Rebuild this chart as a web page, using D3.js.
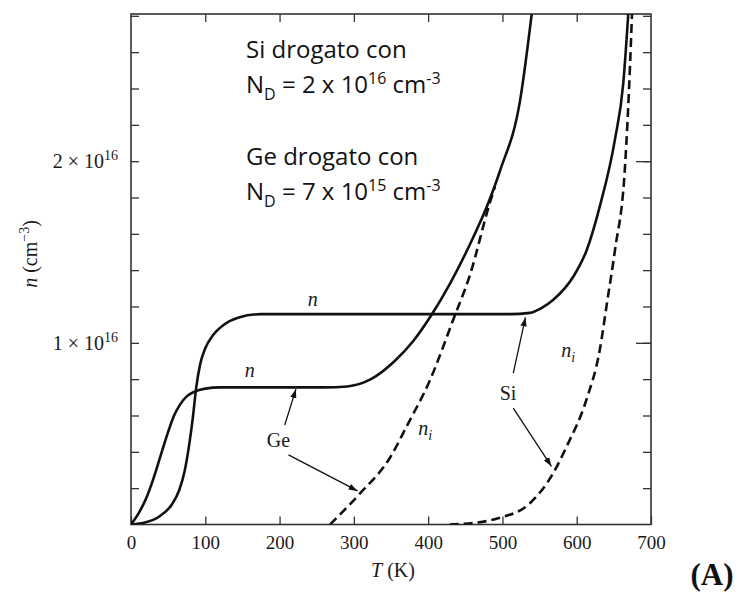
<!DOCTYPE html>
<html>
<head>
<meta charset="utf-8">
<script src="https://cdn.jsdelivr.net/npm/d3@7/dist/d3.min.js"></script>
<style>
  body { margin: 0; background: #fff; }
  svg { display: block; }
  .serif { font-family: 'Liberation Serif', 'DejaVu Serif', serif; fill: #1a1a1a; }
  .note { font-family: 'Open Sans', 'Noto Sans', sans-serif; fill: #111; }
  .axis path { display: none; }
  .axis line { stroke: #333; stroke-width: 1.3; }
</style>
</head>
<body>
<svg id="chart" width="740" height="595"></svg>
<script>

// Temperature axis (K) and concentration axis (units of 1e16 cm^-3)
const xTicks = [0, 100, 200, 300, 400, 500, 600, 700];
const yMinorTicks = [0.2, 0.4, 0.6, 0.8, 1.0, 1.2, 1.4, 1.6, 1.8, 2.0, 2.2, 2.4, 2.6, 2.8];
const yMajorTicks = [1, 2];

// Ge, electron concentration n
const geT = [0, 10, 20, 30, 40, 50, 58, 66, 75, 85, 100, 120, 200, 260, 291, 323, 355, 380, 404, 430, 456, 480, 497, 524, 539.4];
const geN = [0, 0.06, 0.14, 0.25, 0.38, 0.51, 0.60, 0.66, 0.705, 0.73, 0.748, 0.755, 0.755, 0.755, 0.76, 0.80, 0.90, 1.01, 1.15, 1.33, 1.54, 1.76, 1.95, 2.34, 2.81];

// Ge, intrinsic concentration n_i
const geNiT = [268, 308, 349, 371, 402, 434, 456, 483, 490];
const geNi  = [0, 0.17, 0.37, 0.54, 0.79, 1.13, 1.37, 1.77, 1.86];

// Si, electron concentration n
const siT = [0, 20, 40, 55, 65, 72, 78, 83, 88, 93, 100, 110, 125, 145, 175, 250, 400, 510, 537, 552, 568.5, 595.5, 613.4, 631, 651.5, 662.7, 669.4];
const siN = [0, 0.012, 0.05, 0.11, 0.19, 0.29, 0.43, 0.58, 0.76, 0.88, 0.97, 1.04, 1.10, 1.14, 1.158, 1.158, 1.158, 1.158, 1.165, 1.19, 1.237, 1.365, 1.51, 1.75, 2.12, 2.43, 2.81];

// Si, intrinsic concentration n_i
const siNiT = [429, 465, 494, 537, 568, 586.5, 613, 631, 641.4, 651.5, 665, 671.7, 674.4];
const siNi  = [0, 0.01, 0.034, 0.117, 0.28, 0.43, 0.686, 0.96, 1.237, 1.51, 1.97, 2.52, 2.81];

// Arrows [fromT, fromN, toT, toN]
const arrows = [
  [207, 0.548, 222, 0.745],
  [212, 0.383, 305, 0.185],
  [514.6, 0.833, 531, 1.14],
  [514.6, 0.64, 566, 0.32],
];

// Curve labels [text, subscript, T, n]
const curveLabels = [
  ['n', '', 244.6, 1.228],
  ['n', '', 160, 0.842],
  ['n', 'i', 396, 0.52],
  ['n', 'i', 588.6, 0.952],
];
const materialLabels = [
  ['Ge', 198.5, 0.466],
  ['Si', 507.5, 0.725],
];

const svg = d3.select('#chart');

// Scales: frame is 131..651 horizontally, 14..524.5 vertically
const x = d3.scaleLinear().domain([0, 700]).range([131, 651]);
const y = d3.scaleLinear().domain([0, 2.81]).range([524.5, 14]);

svg.append('defs')
  .append('clipPath')
  .attr('id', 'plot-clip')
  .append('rect')
  .attr('x', 131).attr('y', 14)
  .attr('width', 520).attr('height', 510.5);

svg.select('defs')
  .append('marker')
  .attr('id', 'head')
  .attr('viewBox', '0 0 10 10')
  .attr('refX', 10).attr('refY', 5)
  .attr('markerWidth', 9).attr('markerHeight', 9)
  .attr('markerUnits', 'userSpaceOnUse')
  .attr('orient', 'auto')
  .append('path')
  .attr('d', 'M0,1.5 L10,5 L0,8.5 Z')
  .attr('fill', '#111');

// Axes, ticks pointing inward on all four sides
svg.append('g')
  .attr('class', 'axis serif')
  .attr('transform', 'translate(0,524.5)')
  .call(d3.axisBottom(x).tickValues(xTicks).tickSize(-8).tickPadding(11))
  .selectAll('text')
  .attr('class', 'serif')
  .style('font-size', '19px');

svg.append('g')
  .attr('class', 'axis')
  .attr('transform', 'translate(0,14)')
  .call(d3.axisTop(x).tickValues(xTicks.slice(1, -1)).tickSize(-8).tickFormat(''));

svg.append('g')
  .attr('class', 'axis')
  .attr('transform', 'translate(131,0)')
  .call(d3.axisLeft(y).tickValues(yMinorTicks).tickSize(-8).tickFormat(''));

svg.append('g')
  .attr('class', 'axis')
  .attr('transform', 'translate(651,0)')
  .call(d3.axisRight(y).tickValues(yMinorTicks).tickSize(-8).tickFormat(''));

svg.append('g')
  .attr('class', 'axis')
  .attr('transform', 'translate(651,0)')
  .call(d3.axisRight(y).tickValues(yMajorTicks).tickSize(-15).tickFormat(''));

// Frame
svg.append('rect')
  .attr('x', 131).attr('y', 14)
  .attr('width', 520).attr('height', 510.5)
  .attr('fill', 'none')
  .attr('stroke', '#333')
  .attr('stroke-width', 1.6);

// Y tick labels, "1 x 10^16" style
yMajorTicks.forEach(v => {
  const t = svg.append('text')
    .attr('class', 'serif')
    .attr('x', 118).attr('y', y(v) + 7)
    .attr('text-anchor', 'end')
    .style('font-size', '20px');
  t.append('tspan').text(v + ' \u00d7 10');
  t.append('tspan').attr('dy', -8).style('font-size', '14px').text('16');
});

// Axis titles
const yTitle = svg.append('text')
  .attr('class', 'serif')
  .attr('transform', 'translate(37,254) rotate(-90)')
  .attr('text-anchor', 'middle')
  .style('font-size', '20px');
yTitle.append('tspan').style('font-style', 'italic').text('n');
yTitle.append('tspan').text(' (cm');
yTitle.append('tspan').attr('dy', -8).style('font-size', '14px').text('\u22123');
yTitle.append('tspan').attr('dy', 8).text(')');

const xTitle = svg.append('text')
  .attr('class', 'serif')
  .attr('x', 393).attr('y', 577)
  .attr('text-anchor', 'middle')
  .style('font-size', '20px');
xTitle.append('tspan').style('font-style', 'italic').text('T');
xTitle.append('tspan').text(' (K)');

svg.append('text')
  .attr('class', 'serif')
  .attr('x', 712).attr('y', 585)
  .attr('text-anchor', 'middle')
  .style('font-size', '31px')
  .style('font-weight', 'bold')
  .style('fill', '#111')
  .text('(A)');

// Curves
const line = d3.line()
  .x(d => x(d[0]))
  .y(d => y(d[1]))
  .curve(d3.curveMonotoneX);

const curves = [
  { T: geT, n: geN, dash: null },
  { T: siT, n: siN, dash: null },
  { T: geNiT, n: geNi, dash: '9,5' },
  { T: siNiT, n: siNi, dash: '9,5' },
];

svg.append('g')
  .attr('clip-path', 'url(#plot-clip)')
  .selectAll('path')
  .data(curves)
  .join('path')
  .attr('d', c => line(d3.zip(c.T, c.n)))
  .attr('fill', 'none')
  .attr('stroke', '#111')
  .attr('stroke-width', 2.6)
  .attr('stroke-dasharray', c => c.dash);

// Arrows
svg.append('g')
  .selectAll('line')
  .data(arrows)
  .join('line')
  .attr('x1', d => x(d[0])).attr('y1', d => y(d[1]))
  .attr('x2', d => x(d[2])).attr('y2', d => y(d[3]))
  .attr('stroke', '#111')
  .attr('stroke-width', 1.3)
  .attr('marker-end', 'url(#head)');

// Curve labels n and n_i
curveLabels.forEach(([txt, sub, T, n]) => {
  const t = svg.append('text')
    .attr('class', 'serif')
    .attr('x', x(T)).attr('y', y(n) + 5)
    .attr('text-anchor', 'middle')
    .style('font-size', '20px')
    .style('font-style', 'italic');
  t.append('tspan').text(txt);
  if (sub) t.append('tspan').attr('dy', 5).style('font-size', '14px').text(sub);
});

materialLabels.forEach(([txt, T, n]) => {
  svg.append('text')
    .attr('class', 'serif')
    .attr('x', x(T)).attr('y', y(n) + 7)
    .attr('text-anchor', 'middle')
    .style('font-size', '20px')
    .text(txt);
});

// Doping notes
function addNote(title, value, exp, top) {
  svg.append('text')
    .attr('class', 'note')
    .attr('x', 246).attr('y', top)
    .style('font-size', '24px')
    .text(title);

  const t = svg.append('text')
    .attr('class', 'note')
    .attr('x', 246).attr('y', top + 35)
    .style('font-size', '24px');
  t.append('tspan').text('N');
  t.append('tspan').attr('dy', 7).style('font-size', '16px').text('D');
  t.append('tspan').attr('dy', -7).text(' = ' + value + ' x 10');
  t.append('tspan').attr('dy', -9).style('font-size', '16px').text(exp);
  t.append('tspan').attr('dy', 9).text(' cm');
  t.append('tspan').attr('dy', -9).style('font-size', '16px').text('-3');
}

addNote('Si drogato con', '2', '16', 58);
addNote('Ge drogato con', '7', '15', 165);

</script>
</body>
</html>
